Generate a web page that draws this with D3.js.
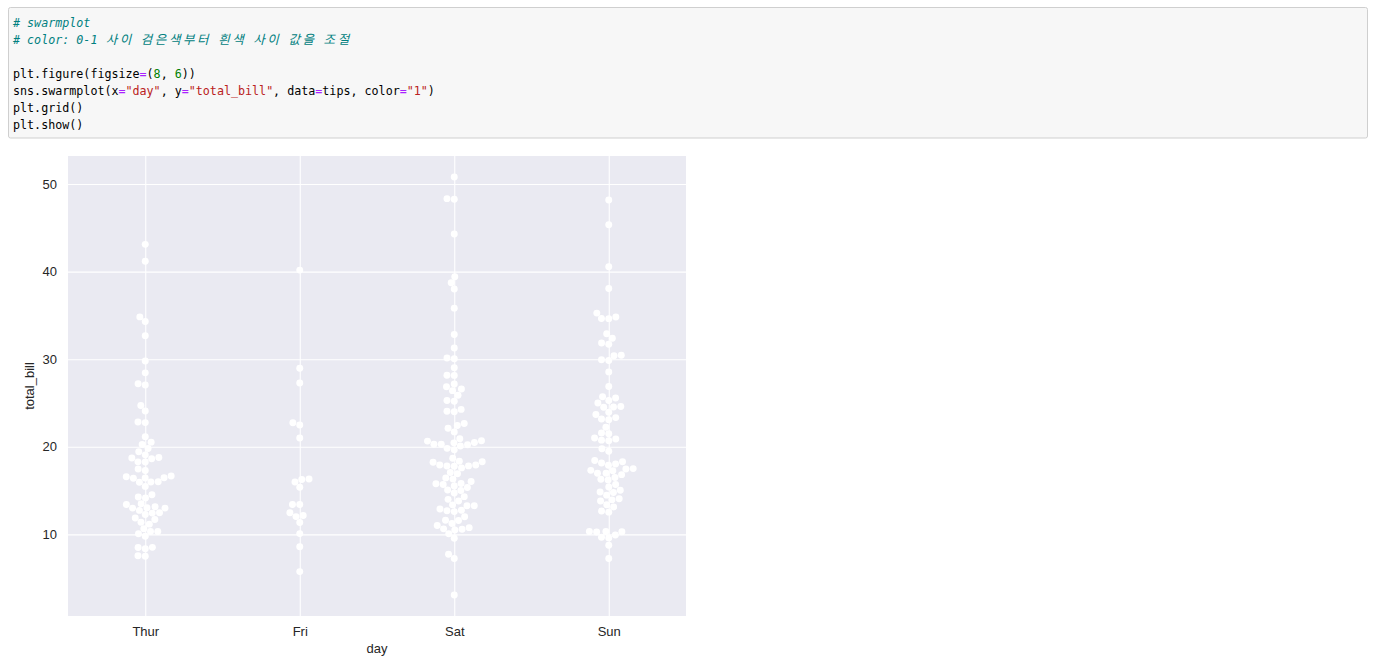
<!DOCTYPE html>
<html>
<head>
<meta charset="utf-8">
<script src="https://cdn.jsdelivr.net/npm/d3@7"></script>
<style>
  html, body { margin: 0; padding: 0; background: #ffffff; }
  svg { display: block; }
</style>
</head>
<body>
<svg id="chart" width="1377" height="665"></svg>
<script>
// ---- data (tips dataset, total_bill by day) ----
const categories = ["Thur", "Fri", "Sat", "Sun"];
const thur = [27.20, 22.76, 17.29, 19.44, 16.66, 10.07, 32.68, 15.98, 34.83, 13.03, 18.28, 24.71, 21.16,
  10.65, 12.43, 24.08, 11.69, 13.42, 14.26, 15.95, 12.48, 29.80, 8.52, 14.52, 11.38, 22.82, 19.08, 20.27,
  11.17, 12.26, 18.26, 8.51, 10.33, 14.15, 16.00, 13.16, 17.47, 34.30, 41.19, 27.05, 16.43, 8.35, 18.64,
  11.87, 9.78, 7.51, 19.81, 28.44, 15.48, 16.58, 7.56, 10.34, 43.11, 13.00, 13.51, 18.71, 12.74, 13.00,
  16.40, 20.53, 16.47, 18.78];
const fri = [28.97, 22.49, 5.75, 16.32, 22.75, 40.17, 27.28, 12.03, 21.01, 12.46, 11.35, 15.38,
  12.16, 13.42, 8.58, 15.98, 13.42, 16.27, 10.09];
const sat = [20.65, 17.92, 20.29, 15.77, 39.42, 19.82, 17.81, 13.37, 12.69, 21.70, 19.65, 9.55, 18.35,
  15.06, 20.69, 17.78, 24.06, 16.31, 16.93, 18.69, 31.27, 16.04, 38.01, 26.41, 11.24, 48.27, 20.29, 13.81,
  11.02, 18.29, 17.59, 20.08, 16.45, 3.07, 20.23, 15.01, 12.02, 17.07, 26.86, 25.28, 14.73, 10.51, 17.92,
  44.30, 22.42, 20.92, 15.36, 20.49, 25.21, 18.24, 14.31, 14.00, 7.25, 10.59, 10.63, 50.81, 15.81,
  26.59, 38.73, 24.27, 12.76, 30.06, 25.89, 48.33, 13.27, 28.17, 12.90, 28.15, 11.59, 7.74, 30.14,
  20.45, 13.28, 22.12, 24.01, 15.69, 11.61, 10.77, 15.53, 10.07, 12.60, 32.83, 35.83, 29.03, 27.18,
  22.67, 17.82];
const sun = [16.99, 10.34, 21.01, 23.68, 24.59, 25.29, 8.77, 26.88, 15.04, 14.78, 10.27, 35.26, 15.42,
  18.43, 14.83, 21.58, 10.33, 16.29, 16.97, 17.46, 13.94, 9.68, 30.40, 18.29, 22.23, 32.40, 28.55, 18.04,
  12.54, 10.29, 34.81, 9.94, 25.56, 19.49, 38.07, 23.95, 25.71, 17.31, 29.93, 14.07, 13.13, 17.26, 24.55,
  19.77, 29.85, 48.17, 25.00, 13.39, 16.49, 21.50, 12.66, 16.21, 13.81, 17.51, 24.52, 20.76, 31.71,
  7.25, 31.85, 16.82, 32.90, 17.89, 14.48, 9.60, 34.63, 34.65, 23.33, 45.35, 23.17, 40.55, 20.69, 20.90,
  30.46, 18.15, 23.10, 15.69];
const seriesByDay = [thur, fri, sat, sun];
const yTicks = [10, 20, 30, 40, 50];
const xLabel = "day";
const yLabel = "total_bill";
const codeLines = [
  [["# swarmplot", "cm"]],
  [["# color: 0-1 사이 검은색부터 흰색 사이 값을 조절", "cm"]],
  [],
  [["plt.figure(figsize", "tx"], ["=", "op"], ["(", "tx"], ["8", "nu"], [", ", "tx"], ["6", "nu"], ["))", "tx"]],
  [["sns.swarmplot(x", "tx"], ["=", "op"], ["\"day\"", "st"], [", y", "tx"], ["=", "op"], ["\"total_bill\"", "st"],
   [", data", "tx"], ["=", "op"], ["tips, color", "tx"], ["=", "op"], ["\"1\"", "st"], [")", "tx"]],
  [["plt.grid()", "tx"]],
  [["plt.show()", "tx"]]
];

// ---- layout ----
const svg = d3.select("#chart");
const tokColor = { cm: "#008080", tx: "#000000", op: "#aa22ff", nu: "#008000", st: "#ba2121" };

// code cell
svg.append("rect").attr("x", 8.5).attr("y", 7.5).attr("width", 1359).attr("height", 130.5)
  .attr("rx", 2).attr("fill", "#f7f7f7").attr("stroke", "#cfcfcf").attr("stroke-width", 1);
const code = svg.append("g");
const colW = 7.03;
const isWide = ch => /[\u1100-\u11ff\u3130-\u318f\uac00-\ud7af]/.test(ch);
codeLines.forEach((line, i) => {
  const yb = 27 + i * 17;
  let col = 0;
  line.forEach(([s, k]) => {
    // split token into runs of narrow and wide characters
    const runs = [];
    for (const ch of s) {
      const w = isWide(ch);
      if (runs.length && runs[runs.length - 1].w === w) runs[runs.length - 1].s += ch;
      else runs.push({ w, s: ch });
    }
    runs.forEach(run => {
      if (!run.w) {
        code.append("text")
          .attr("x", 13 + col * colW).attr("y", yb)
          .attr("font-family", "'DejaVu Sans Mono', 'Liberation Mono', monospace")
          .attr("font-size", "11.7px")
          .attr("xml:space", "preserve")
          .attr("fill", tokColor[k])
          .attr("font-style", k === "cm" ? "italic" : "normal")
          .text(run.s);
        col += run.s.length;
      } else {
        for (const ch of run.s) {
          code.append("text")
            .attr("x", 13 + (col + 1) * colW).attr("y", yb)
            .attr("text-anchor", "middle")
            .attr("font-family", "'Noto Sans CJK KR', sans-serif")
            .attr("font-size", "12.5px")
            .attr("fill", tokColor[k])
            .attr("font-style", k === "cm" ? "italic" : "normal")
            .text(ch);
          col += 2;
        }
      }
    });
  });
});

// axes
const ax = { left: 68, right: 686, top: 156, bottom: 616 };
const allVals = seriesByDay.flat();
const vmin = d3.min(allVals), vmax = d3.max(allVals);
const pad = (vmax - vmin) * 0.05;
const y = d3.scaleLinear().domain([vmin - pad, vmax + pad]).range([ax.bottom, ax.top]);
const x = d3.scalePoint().domain(categories).range([ax.left, ax.right]).padding(0.5);

svg.append("rect").attr("x", ax.left).attr("y", ax.top)
  .attr("width", ax.right - ax.left).attr("height", ax.bottom - ax.top).attr("fill", "#eaeaf2");

const yAxis = svg.append("g").attr("transform", `translate(${ax.left},0)`)
  .call(d3.axisLeft(y).tickValues(yTicks).tickSize(-(ax.right - ax.left)).tickPadding(11).tickFormat(d3.format("d")));
const xAxis = svg.append("g").attr("transform", `translate(0,${ax.bottom})`)
  .call(d3.axisBottom(x).tickSize(-(ax.bottom - ax.top)).tickPadding(11));
[xAxis, yAxis].forEach(g => {
  g.select(".domain").remove();
  g.selectAll(".tick line").attr("stroke", "#ffffff").attr("stroke-width", 1.1);
  g.selectAll(".tick text").attr("fill", "#262626")
    .attr("font-family", "'Liberation Sans', Arial, sans-serif").attr("font-size", "13px");
});

// axis labels
svg.append("text").attr("x", (ax.left + ax.right) / 2).attr("y", 653)
  .attr("text-anchor", "middle").attr("fill", "#262626")
  .attr("font-family", "'Liberation Sans', Arial, sans-serif").attr("font-size", "13px").text(xLabel);
svg.append("text").attr("transform", `translate(34,${(ax.top + ax.bottom) / 2}) rotate(-90)`)
  .attr("text-anchor", "middle").attr("fill", "#262626")
  .attr("font-family", "'Liberation Sans', Arial, sans-serif").attr("font-size", "13px").text(yLabel);

// ---- beeswarm (seaborn-style) ----
const r = 5 * 100 / 72 / 2;
function beeswarm(vals, cx) {
  const pts = vals.map((v, i) => ({ v, i, py: y(v) }))
    .sort((a, b) => a.v - b.v || a.i - b.i);
  const placed = [];
  pts.forEach((p, k) => {
    if (k === 0) { placed.push({ x: cx, y: p.py }); return; }
    const neighbors = [];
    for (let j = placed.length - 1; j >= 0; j--) {
      if (placed[j].y - p.py < 2 * r) neighbors.push(placed[j]); else break;
    }
    neighbors.reverse();
    const cands = [{ x: cx, y: p.py }];
    let leftFirst = true;
    neighbors.forEach(n => {
      const dy = n.y - p.py;
      const dx = Math.sqrt(Math.max(4 * r * r - dy * dy, 0)) * 1.05;
      const cl = { x: n.x - dx, y: p.py }, cr = { x: n.x + dx, y: p.py };
      if (leftFirst) cands.push(cl, cr); else cands.push(cr, cl);
      leftFirst = !leftFirst;
    });
    const order = cands.map((c, idx) => ({ c, idx, off: Math.abs(c.x - cx) }))
      .sort((a, b) => a.off - b.off || a.idx - b.idx).map(o => o.c);
    let chosen = order[0];
    if (neighbors.length) {
      for (const c of order) {
        const ok = neighbors.every(n => (n.x - c.x) ** 2 + (n.y - c.y) ** 2 >= 4 * r * r - 1e-9);
        if (ok) { chosen = c; break; }
      }
    }
    placed.push(chosen);
  });
  return placed;
}

const dots = svg.append("g");
categories.forEach((c, ci) => {
  const pts = beeswarm(seriesByDay[ci], x(c));
  dots.selectAll(null).data(pts).enter().append("circle")
    .attr("cx", d => d.x).attr("cy", d => d.y).attr("r", r).attr("fill", "#ffffff");
});
</script>
</body>
</html>
